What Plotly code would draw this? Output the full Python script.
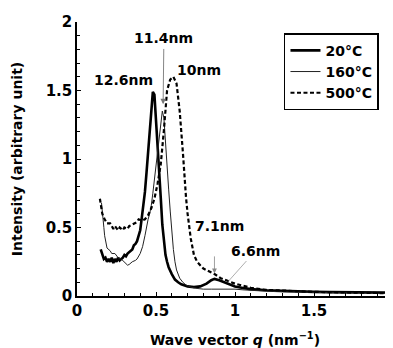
import plotly.graph_objects as go

# ---- data ----
q_20 = [0.15,0.16,0.17,0.18,0.19,0.20,0.21,0.22,0.23,0.24,0.25,0.26,0.27,0.28,0.29,0.30,0.31,0.32,0.33,0.34,0.35,
        0.36,0.37,0.38,0.39,0.40,0.41,0.42,0.43,0.44,0.45,0.46,0.47,0.48,0.49,0.50,0.51,0.52,0.53,0.54,0.55,0.56,0.57,0.58,
        0.60,0.62,0.64,0.66,0.70,0.74,0.78,0.82,0.85,0.87,0.90,0.93,0.96,1.00,1.05,1.10,1.20,1.30,1.40,1.50,1.60,1.70,1.80,1.90,2.00]
i_20 = [0.34,0.30,0.27,0.28,0.25,0.27,0.25,0.28,0.24,0.27,0.25,0.28,0.26,0.27,0.28,0.30,0.29,0.31,0.32,0.33,0.34,
        0.37,0.38,0.40,0.44,0.48,0.57,0.66,0.76,0.90,1.04,1.20,1.38,1.49,1.47,1.30,1.12,0.96,0.72,0.52,0.38,0.30,0.25,0.21,
        0.16,0.12,0.10,0.085,0.07,0.065,0.07,0.09,0.115,0.125,0.115,0.10,0.085,0.07,0.058,0.05,0.042,0.037,0.033,0.03,0.028,0.027,0.026,0.025,0.025]

q_160 = [0.155,0.16,0.17,0.175,0.19,0.21,0.22,0.24,0.26,0.28,0.30,0.32,0.33,0.35,0.37,0.38,0.40,0.415,0.43,0.44,
         0.45,0.46,0.47,0.48,0.49,0.50,0.51,0.52,0.53,0.54,0.55,0.56,0.57,0.58,0.59,0.60,0.61,0.62,0.63,0.65,
         0.67,0.69,0.72,0.76,0.80,0.85,0.90,0.95,1.00,1.05,1.10,1.20,1.30,1.40,1.50,1.60,1.70,1.80,1.90,2.00]
i_160 = [0.68,0.60,0.50,0.44,0.35,0.33,0.31,0.31,0.28,0.27,0.25,0.225,0.23,0.25,0.26,0.27,0.31,0.36,0.44,0.51,
         0.56,0.60,0.66,0.75,0.85,0.95,1.05,1.15,1.27,1.35,1.30,1.15,0.96,0.78,0.62,0.46,0.34,0.25,0.19,0.13,
         0.10,0.08,0.065,0.055,0.05,0.05,0.05,0.055,0.05,0.045,0.04,0.035,0.03,0.028,0.025,0.022,0.02,0.019,0.018,0.017]

q_500 = [0.145,0.15,0.16,0.175,0.19,0.21,0.23,0.24,0.26,0.27,0.29,0.30,0.32,0.33,0.35,0.36,0.38,0.39,0.41,0.43,
         0.45,0.47,0.49,0.51,0.53,0.55,0.57,0.59,0.61,0.63,0.65,0.67,0.68,0.69,0.70,0.72,0.74,0.76,0.80,0.87,
         0.91,0.96,1.00,1.05,1.10,1.19,1.30,1.40,1.50,1.60,1.70,1.80,1.90,2.00]
i_500 = [0.71,0.66,0.60,0.56,0.53,0.53,0.49,0.51,0.48,0.50,0.48,0.50,0.49,0.51,0.52,0.53,0.54,0.56,0.55,0.56,
         0.59,0.64,0.71,0.82,0.96,1.21,1.50,1.58,1.60,1.55,1.35,1.05,0.85,0.72,0.60,0.42,0.30,0.25,0.20,0.16,
         0.13,0.105,0.09,0.075,0.06,0.045,0.038,0.033,0.03,0.028,0.026,0.024,0.022,0.02]

series_names = ["20°C", "160°C", "500°C"]
peak_labels = ["12.6nm", "11.4nm", "10nm", "7.1nm", "6.6nm"]
x_ticks = [0, 0.5, 1, 1.5, 2]
x_tick_text = ["0", "0.5", "1", "1.5", "2"]
y_ticks = [0, 0.5, 1, 1.5, 2]
y_tick_text = ["0", "0.5", "1", "1.5", "2"]

FONT = "DejaVu Sans"

fig = go.Figure()
fig.add_trace(go.Scatter(x=q_20, y=i_20, mode="lines", name="<b>%s</b>" % series_names[0],
                         line=dict(color="black", width=2.6)))
fig.add_trace(go.Scatter(x=q_160, y=i_160, mode="lines", name="<b>%s</b>" % series_names[1],
                         line=dict(color="#222222", width=1)))
fig.add_trace(go.Scatter(x=q_500, y=i_500, mode="lines", name="<b>%s</b>" % series_names[2],
                         line=dict(color="black", width=2.2, dash="4px,2.5px")))

ann_font = dict(family=FONT, size=14, color="black")
annotations = [
    dict(x=0.295, y=1.58, text="<b>%s</b>" % peak_labels[0], showarrow=False),
    # label with arrow: text sits at (ax, ay), arrow points at (x, y)
    dict(x=0.545, y=1.40, ax=0.55, ay=1.88, axref="x", ayref="y",
         text="<b>%s</b>" % peak_labels[1], showarrow=True,
         arrowhead=2, arrowsize=1.2, arrowwidth=0.9, arrowcolor="#777777", startstandoff=1),
    dict(x=0.77, y=1.65, text="<b>%s</b>" % peak_labels[2], showarrow=False),
    dict(x=0.90, y=0.51, text="<b>%s</b>" % peak_labels[3], showarrow=False),
    # short arrow under the 7.1nm label, pointing at the small 20°C bump
    dict(x=0.87, y=0.165, ax=0.87, ay=0.30, axref="x", ayref="y", text="", showarrow=True,
         arrowhead=2, arrowsize=1.2, arrowwidth=0.8, arrowcolor="#888888"),
    dict(x=0.96, y=0.11, ax=1.13, ay=0.33, axref="x", ayref="y",
         text="<b>%s</b>" % peak_labels[4], showarrow=True,
         arrowhead=0, arrowwidth=0.8, arrowcolor="#999999", startstandoff=1),
]
for a in annotations:
    a["xref"] = "x"
    a["yref"] = "y"
    a["font"] = ann_font
fig.update_layout(annotations=annotations)

# the page body adds an 8px margin, so the figure is 8px smaller than the window
fig.update_layout(
    width=385, height=340,
    margin=dict(l=69, r=0, t=14, b=52),
    paper_bgcolor="white", plot_bgcolor="white",
    font=dict(family=FONT, size=14, color="black"),
    showlegend=True,
    legend=dict(x=0.655, y=0.959, xanchor="left", yanchor="top",
                bordercolor="black", borderwidth=1.5, bgcolor="white",
                font=dict(family=FONT, size=14, color="black"),
                tracegroupgap=0, itemwidth=30),
    xaxis=dict(range=[0, 2], tickvals=x_ticks, ticktext=["<b>%s</b>" % t for t in x_tick_text],
               ticks="inside", ticklen=4, tickwidth=1, tickcolor="black",
               minor=dict(dtick=0.1, ticks="inside", ticklen=3, tickcolor="black", tickwidth=1),
               showline=True, linecolor="black", linewidth=1.5, mirror=False,
               showgrid=False, zeroline=False, automargin=False,
               tickfont=dict(family=FONT, size=15),
               title=dict(text="<b>Wave vector <i>q</i> (nm<sup>−1</sup>)</b>",
                          font=dict(family=FONT, size=14), standoff=22)),
    yaxis=dict(range=[0, 2], tickvals=y_ticks, ticktext=["<b>%s</b>" % t for t in y_tick_text],
               ticks="inside", ticklen=4, tickwidth=1, tickcolor="black",
               minor=dict(dtick=0.1, ticks="inside", ticklen=3, tickcolor="black", tickwidth=1),
               showline=True, linecolor="black", linewidth=1.5, mirror=False,
               showgrid=False, zeroline=False, automargin=False,
               tickfont=dict(family=FONT, size=15),
               title=dict(text="<b>Intensity (arbitrary unit)</b>",
                          font=dict(family=FONT, size=14), standoff=20)),
)

fig.write_html("out.html")
